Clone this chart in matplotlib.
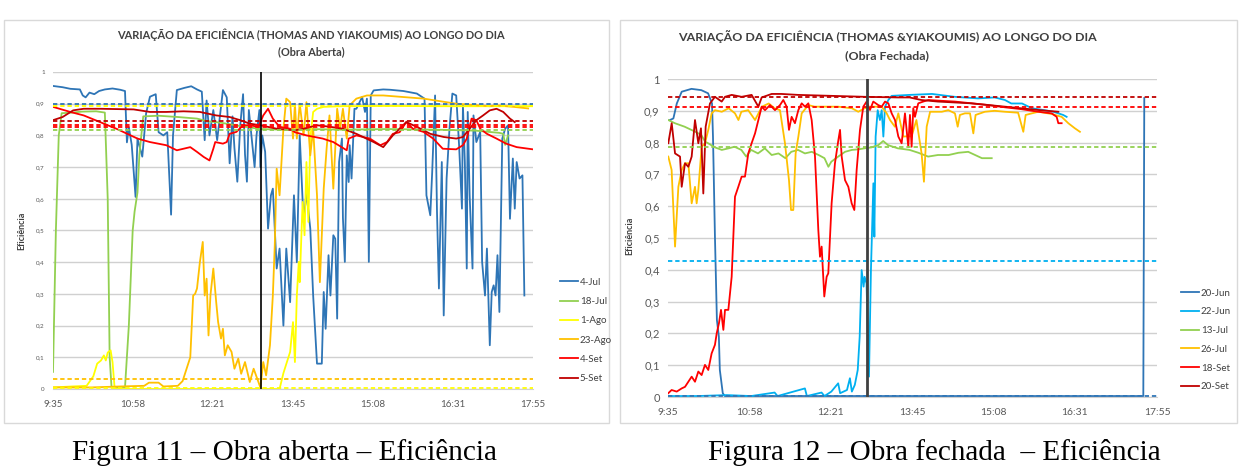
import matplotlib.pyplot as plt
from matplotlib.patches import Rectangle

plt.rcParams['font.family'] = ['Lato', 'DejaVu Sans']

# eixo x: minutos desde as 9:35
horas_pos = [0, 83, 166, 250, 333, 416, 500]
horas_txt = ['9:35', '10:58', '12:21', '13:45', '15:08', '16:31', '17:55']
ef_pos = [0, 0.1, 0.2, 0.3, 0.4, 0.5, 0.6, 0.7, 0.8, 0.9, 1.0]
ef_txt = ['0', '0,1', '0,2', '0,3', '0,4', '0,5', '0,6', '0,7', '0,8', '0,9', '1']

# ---------------- Obra aberta ----------------
aberta_nomes = ['4-Jul', '18-Jul', '1-Ago', '23-Ago', '4-Set', '5-Set']

jul4_t = [0, 10, 18, 28, 31, 34, 38, 43, 48, 54, 62, 70, 75, 77, 79, 82, 86, 88, 93, 97,
          101, 107, 110, 115, 119, 123, 125, 129, 137, 144, 150, 155, 158, 160, 163, 167, 171, 177, 181, 184,
          187, 189, 192, 195, 198, 200, 202, 204, 207, 210, 212, 215, 216, 218, 221, 224, 227, 229, 233, 236,
          240, 243, 247, 250, 251, 254, 257, 261, 264, 268, 271, 275, 280, 282, 284, 287, 289, 292, 294, 296,
          298, 301, 302, 304, 306, 308, 309, 311, 314, 316, 322, 325, 327, 329, 331, 334, 344, 351, 365, 379,
          387, 389, 393, 395, 398, 400, 402, 405, 407, 410, 413, 416, 420, 423, 426, 427, 429, 431, 432, 434,
          437, 438, 441, 445, 447, 450, 452, 455, 457, 459, 461, 463, 465, 468, 471, 474, 476, 479, 481, 483,
          486, 489, 491]
jul4_v = [0.956, 0.952, 0.947, 0.945, 0.926, 0.92, 0.935, 0.93, 0.94, 0.945, 0.948, 0.944, 0.94, 0.778, 0.826, 0.77, 0.606, 0.79, 0.733, 0.87,
          0.922, 0.93, 0.81, 0.8, 0.81, 0.55, 0.8, 0.943, 0.95, 0.955, 0.945, 0.938, 0.785, 0.91, 0.8, 0.88, 0.785, 0.943, 0.92, 0.712,
          0.86, 0.76, 0.654, 0.83, 0.93, 0.74, 0.654, 0.88, 0.79, 0.7, 0.8, 0.88, 0.7, 0.8, 0.748, 0.506, 0.611, 0.632, 0.38, 0.443,
          0.2, 0.443, 0.274, 0.527, 0.611, 0.4, 0.8, 0.527, 0.62, 0.506, 0.295, 0.08, 0.08, 0.306, 0.19, 0.422, 0.295, 0.485, 0.474, 0.222,
          0.716, 0.79, 0.54, 0.401, 0.737, 0.653, 0.769, 0.664, 0.884, 0.884, 0.921, 0.874, 0.916, 0.401, 0.926, 0.942, 0.945, 0.944, 0.94, 0.932,
          0.916, 0.611, 0.548, 0.685, 0.926, 0.558, 0.317, 0.716, 0.232, 0.664, 0.821, 0.932, 0.926, 0.769, 0.569, 0.895, 0.716, 0.38, 0.874, 0.611,
          0.38, 0.863, 0.779, 0.811, 0.401, 0.295, 0.443, 0.138, 0.306, 0.327, 0.295, 0.422, 0.243, 0.79, 0.821, 0.832, 0.537, 0.727, 0.569, 0.716,
          0.664, 0.674, 0.295]

jul18_t = [0, 3, 6, 9, 20, 30, 45, 54, 57, 59, 61, 75, 79, 83, 85, 88, 90, 94, 110, 130,
           150, 160, 175, 190, 205, 217, 240, 270, 300, 350, 400, 440, 465, 469, 471, 473, 474]
jul18_v = [0.054, 0.5, 0.8, 0.87, 0.872, 0.875, 0.876, 0.872, 0.6, 0.1, 0.005, 0.005, 0.2, 0.5, 0.56, 0.62, 0.74, 0.86, 0.862, 0.858,
           0.853, 0.845, 0.84, 0.832, 0.825, 0.82, 0.818, 0.82, 0.818, 0.82, 0.818, 0.815, 0.808, 0.805, 0.77, 0.79, 0.8]

ago1_t = [0, 20, 35, 42, 46, 50, 53, 55, 57, 60, 62, 64, 66, 120, 236, 240, 247, 250, 252, 254,
          256, 257, 260, 262, 264, 266, 268, 271, 275, 282, 300, 350, 400, 450, 500]
ago1_v = [0.005, 0.008, 0.01, 0.04, 0.08, 0.09, 0.106, 0.09, 0.115, 0.122, 0.085, 0.01, 0.0, 0.0, 0.0, 0.05, 0.117, 0.211, 0.085, 0.295,
          0.401, 0.337, 0.59, 0.485, 0.716, 0.527, 0.79, 0.874, 0.884, 0.89, 0.892, 0.893, 0.892, 0.892, 0.892]

ago23_t = [0, 40, 70, 95, 100, 110, 115, 130, 135, 143, 146, 148, 150, 153, 156, 158, 160, 162, 164, 167,
           170, 172, 175, 177, 179, 182, 186, 189, 193, 196, 200, 205, 209, 214, 216, 219, 222, 226, 229, 231,
           233, 236, 240, 243, 247, 250, 252, 254, 257, 261, 264, 268, 271, 275, 278, 282, 285, 288, 292, 296,
           299, 302, 306, 309, 316, 327, 344, 386, 420, 455, 462, 480, 495]
ago23_v = [0.005, 0.005, 0.008, 0.01, 0.02, 0.02, 0.008, 0.01, 0.025, 0.1, 0.295, 0.3, 0.317, 0.4, 0.464, 0.295, 0.348, 0.169, 0.295, 0.38,
           0.274, 0.211, 0.159, 0.19, 0.106, 0.138, 0.117, 0.064, 0.096, 0.048, 0.085, 0.022, 0.064, 0.022, 0.005, 0.085, 0.043, 0.138, 0.295, 0.453,
           0.695, 0.611, 0.821, 0.916, 0.905, 0.79, 0.9, 0.79, 0.9, 0.8, 0.905, 0.737, 0.821, 0.611, 0.337, 0.632, 0.758, 0.863, 0.632, 0.884,
           0.821, 0.884, 0.79, 0.895, 0.916, 0.926, 0.926, 0.916, 0.9, 0.892, 0.895, 0.89, 0.885]

set4_t = [0, 18, 32, 49, 66, 88, 101, 118, 129, 143, 150, 157, 163, 167, 169, 177, 181, 184, 191, 198,
          205, 214, 219, 224, 229, 236, 247, 252, 264, 281, 292, 306, 308, 316, 330, 341, 348, 354, 361, 368,
          375, 386, 396, 406, 420, 427, 431, 436, 441, 445, 452, 462, 472, 483, 500]
set4_v = [0.89, 0.874, 0.863, 0.842, 0.821, 0.79, 0.779, 0.769, 0.753, 0.763, 0.748, 0.732, 0.721, 0.758, 0.779, 0.774, 0.779, 0.805, 0.811, 0.832,
          0.832, 0.827, 0.863, 0.884, 0.853, 0.827, 0.821, 0.81, 0.8, 0.79, 0.779, 0.753, 0.79, 0.8, 0.79, 0.769, 0.779, 0.805, 0.81, 0.842,
          0.821, 0.811, 0.79, 0.758, 0.756, 0.769, 0.79, 0.853, 0.848, 0.821, 0.805, 0.79, 0.774, 0.763, 0.756]

set5_t = [0, 10, 21, 32, 49, 84, 101, 118, 136, 153, 170, 184, 195, 205, 216, 233, 252, 261, 275, 289,
          302, 316, 334, 344, 354, 368, 379, 393, 407, 420, 427, 434, 441, 448, 455, 462, 469, 476, 481]
set5_v = [0.848, 0.858, 0.879, 0.884, 0.884, 0.882, 0.874, 0.874, 0.876, 0.874, 0.863, 0.858, 0.848, 0.837, 0.832, 0.821, 0.816, 0.821, 0.832, 0.827,
          0.821, 0.805, 0.779, 0.763, 0.8, 0.842, 0.827, 0.805, 0.795, 0.79, 0.795, 0.821, 0.848, 0.863, 0.879, 0.884, 0.874, 0.853, 0.842]

# linhas de referência (tracejadas)
aberta_ref = [0.899, 0.893, 0.846, 0.833, 0.825, 0.817, 0.032, 0.003]
aberta_corte = 217

# ---------------- Obra fechada ----------------
fechada_nomes = ['20-Jun', '22-Jun', '13-Jul', '26-Jul', '18-Set', '20-Set']

jun20_t = [2, 5.5, 9, 14, 24, 34, 41, 45, 46, 48, 50, 52, 53, 56, 58, 150, 300, 486, 487]
jun20_v = [0.871, 0.876, 0.923, 0.96, 0.969, 0.965, 0.955, 0.923, 0.818, 0.504, 0.242, 0.19, 0.085, 0.012, 0.003, 0.003, 0.003, 0.003, 0.94]

jun22_t = [0, 30, 60, 85, 109, 112, 140, 142, 157, 160, 167, 174, 176, 183, 186, 188, 191, 194, 196, 198,
           200, 201, 203, 205.5, 207.5, 210, 211, 212.3, 214.4, 216.7, 218.5, 220.2, 221.9, 225.3, 228.7, 247, 270, 293, 317, 334,
           344.5, 351, 362, 372, 385, 394, 399, 404, 407.6]
jun22_v = [0.003, 0.003, 0.006, 0.003, 0.014, 0.003, 0.027, 0.003, 0.014, 0.003, 0.017, 0.043, 0.012, 0.022, 0.059, 0.017, 0.038, 0.085, 0.19, 0.399,
           0.347, 0.378, 0.357, 0.064, 0.399, 0.672, 0.504, 0.819, 0.902, 0.871, 0.902, 0.819, 0.913, 0.934, 0.947, 0.95, 0.953, 0.944, 0.939, 0.942,
           0.934, 0.923, 0.923, 0.908, 0.902, 0.897, 0.892, 0.887, 0.881]

jul13_t = [0.3, 7, 17, 28, 34, 38, 41, 48, 55, 62, 68, 75, 80, 85, 92, 99, 106, 113, 120, 126,
           133, 140, 147, 154, 160, 164, 167, 174, 181, 188, 195, 201, 208, 215, 220, 225, 235, 247, 256, 266,
           276, 287, 297, 307, 314, 321, 331]
jul13_v = [0.871, 0.861, 0.85, 0.834, 0.824, 0.803, 0.798, 0.785, 0.777, 0.782, 0.787, 0.777, 0.756, 0.777, 0.766, 0.782, 0.761, 0.766, 0.751, 0.771,
           0.777, 0.766, 0.771, 0.761, 0.751, 0.724, 0.74, 0.756, 0.771, 0.777, 0.779, 0.782, 0.785, 0.792, 0.805, 0.792, 0.782, 0.777, 0.768, 0.756,
           0.761, 0.761, 0.768, 0.771, 0.761, 0.751, 0.751]

jul26_t = [0.3, 3.7, 7.2, 10.6, 14, 17.4, 20.8, 24.2, 27.6, 29.3, 31, 34.4, 37.8, 41.2, 44.6, 48, 55, 62, 68.5, 72,
           75, 82, 89, 96, 103, 109, 114.5, 119.6, 123.7, 125.8, 128.1, 130.5, 133.3, 136.7, 143.5, 150, 160, 174, 188, 194.6,
           201, 208, 218.5, 223.6, 227, 232, 235.5, 240.6, 245.7, 249, 254, 259.3, 261.7, 264.5, 268, 273, 280, 286.6, 293.4, 296.2,
           298.5, 303.6, 308.8, 312.2, 314.5, 324, 334, 344.5, 358, 363.3, 365.7, 378.6, 392.3, 402.5, 409.3, 416, 421.2]
jul26_v = [0.756, 0.714, 0.473, 0.661, 0.714, 0.735, 0.735, 0.609, 0.661, 0.609, 0.651, 0.787, 0.798, 0.84, 0.892, 0.902, 0.897, 0.908, 0.892, 0.871,
           0.897, 0.902, 0.871, 0.913, 0.923, 0.908, 0.902, 0.798, 0.682, 0.588, 0.588, 0.766, 0.819, 0.892, 0.918, 0.913, 0.913, 0.913, 0.908, 0.897,
           0.908, 0.913, 0.913, 0.892, 0.871, 0.85, 0.892, 0.819, 0.82, 0.819, 0.871, 0.766, 0.677, 0.85, 0.897, 0.897, 0.897, 0.902, 0.892, 0.85,
           0.887, 0.892, 0.892, 0.829, 0.887, 0.897, 0.9, 0.897, 0.894, 0.834, 0.887, 0.897, 0.89, 0.881, 0.861, 0.845, 0.834]

set18_t = [0.3, 3.7, 8.9, 14, 17.4, 20.8, 24.2, 27.6, 31, 34.4, 37.8, 41.2, 44.6, 48, 49.8, 52.1, 54.2, 56.6, 58.3, 61.7,
           65.1, 68.5, 71.9, 75.3, 78.7, 82.1, 85.5, 89, 92.4, 95.8, 99.2, 104.3, 109.4, 114.5, 117.9, 121.3, 123.7, 126.4, 129.8, 133.3,
           136.7, 140.1, 143.5, 146.9, 150.3, 153.7, 155.4, 157.1, 159.8, 162.2, 163.9, 167.3, 170.7, 174.2, 175.9, 177.6, 181, 184.4, 187.8, 190.5,
           192.9, 196.3, 199.7, 203.1, 206.5, 209.9, 215, 218.5, 221.9, 225.3, 228.7, 232.1, 235.5, 238.9, 242.3, 245.7, 247.4, 249.1, 250.8, 252.5,
           255.9, 261, 266.2, 276.4, 293.4, 310.5, 327.5, 344.5, 361.6, 378.6, 392.3, 397.4, 399.1, 402.5]
set18_v = [0.012, 0.022, 0.017, 0.027, 0.032, 0.048, 0.064, 0.048, 0.08, 0.069, 0.101, 0.085, 0.137, 0.164, 0.2, 0.232, 0.274, 0.211, 0.274, 0.274,
           0.378, 0.63, 0.661, 0.693, 0.693, 0.766, 0.798, 0.829, 0.871, 0.913, 0.902, 0.918, 0.902, 0.918, 0.934, 0.913, 0.84, 0.881, 0.861, 0.9025,
           0.9235, 0.913, 0.9235, 0.871, 0.756, 0.525, 0.441, 0.473, 0.316, 0.378, 0.389, 0.609, 0.735, 0.808, 0.84, 0.756, 0.682, 0.661, 0.609, 0.588,
           0.714, 0.84, 0.913, 0.929, 0.9025, 0.929, 0.918, 0.913, 0.929, 0.9235, 0.892, 0.871, 0.819, 0.798, 0.892, 0.787, 0.887, 0.787, 0.908, 0.881,
           0.9235, 0.929, 0.934, 0.932, 0.929, 0.9235, 0.918, 0.911, 0.905, 0.897, 0.892, 0.881, 0.861, 0.861]

set20_t = [0.3, 3.8, 7.2, 12.3, 14, 17.4, 20.8, 24.2, 27.6, 31, 33.7, 36.1, 38.5, 42.9, 48, 54.9, 58.3, 65.1, 75.3, 85.5,
           92.4, 95.8, 106, 116, 133, 167, 201, 235, 247, 259, 276, 310, 344.5, 378.6, 399.1]
set20_v = [0.798, 0.861, 0.766, 0.756, 0.661, 0.735, 0.724, 0.756, 0.871, 0.798, 0.845, 0.64, 0.85, 0.923, 0.944, 0.929, 0.944, 0.95, 0.944, 0.95,
           0.913, 0.942, 0.953, 0.953, 0.95, 0.947, 0.944, 0.942, 0.942, 0.934, 0.929, 0.9235, 0.913, 0.9025, 0.897]

fechada_ref = [0.944, 0.913, 0.786, 0.429, 0.003]
fechada_corte = 203

# cores (estilo Excel)
AZUL, AZUL_CLARO, VERDE = '#2E75B6', '#00B0F0', '#92D050'
AMARELO, LARANJA, VERMELHO, VERM_ESC = '#FFFF00', '#FFC000', '#FF0000', '#C00000'
aberta_cores = [AZUL, VERDE, AMARELO, LARANJA, VERMELHO, VERM_ESC]
aberta_ref_cores = [AZUL, AMARELO, VERM_ESC, VERMELHO, VERMELHO, VERDE, LARANJA, AMARELO]
fechada_cores = [AZUL, AZUL_CLARO, VERDE, LARANJA, VERMELHO, VERM_ESC]
fechada_ref_cores = [VERM_ESC, VERMELHO, VERDE, AZUL_CLARO, AZUL]

W, H = 1241, 468
fig = plt.figure(figsize=(W / 100, H / 100), dpi=100)


def painel(rect, series, nomes, cores, refs, ref_cores, corte, corte_cor, corte_lw,
           ytick_fs, xtick_fs, ylab_xy, leg_xy, leg_fs, leg_sp):
    ax = fig.add_axes(rect)
    linhas = []
    for (t, v), nome, cor in zip(series, nomes, cores):
        ln, = ax.plot(t, v, color=cor, lw=1.3, label=nome)
        linhas.append(ln)
    for r, cor in zip(refs, ref_cores):
        ax.axhline(r, color=cor, lw=1.3, dashes=(2.4, 1.6))
    ax.axvline(corte, color=corte_cor, lw=corte_lw)
    ax.set_xlim(0, 500)
    ax.set_ylim(0, 1)
    ax.set_xticks(horas_pos)
    ax.set_xticklabels(horas_txt)
    ax.set_yticks(ef_pos)
    ax.set_yticklabels(ef_txt)
    ax.tick_params(axis='x', length=0, pad=8, labelsize=xtick_fs, labelcolor='#595959')
    ax.tick_params(axis='y', length=0, pad=6, labelsize=ytick_fs, labelcolor='#595959')
    ax.grid(axis='y', color='#D0D0D0', lw=1)
    ax.set_axisbelow(True)
    for s in ['top', 'left', 'right']:
        ax.spines[s].set_visible(False)
    ax.spines['bottom'].set_color('#D0D0D0')
    ax.set_ylabel('Eficiência', fontsize=6.5, fontweight='bold', color='#404040')
    ax.yaxis.set_label_coords(*ylab_xy)
    fig.legend(handles=linhas, loc='center left', bbox_to_anchor=leg_xy, frameon=False,
               fontsize=leg_fs, handlelength=1.9, handletextpad=0.15, labelspacing=leg_sp,
               borderpad=0, borderaxespad=0, labelcolor='#404040')
    return ax


painel([53 / W, 79 / H, 480 / W, 317 / H],
       [(jul4_t, jul4_v), (jul18_t, jul18_v), (ago1_t, ago1_v),
        (ago23_t, ago23_v), (set4_t, set4_v), (set5_t, set5_v)],
       aberta_nomes, aberta_cores, aberta_ref, aberta_ref_cores,
       aberta_corte, 'black', 1.2, 4.5, 7, (-0.055, 0.5), (560 / W, 0.294), 7, 1.05)

painel([668 / W, 71 / H, 489 / W, 318 / H],
       [(jun20_t, jun20_v), (jun22_t, jun22_v), (jul13_t, jul13_v),
        (jul26_t, jul26_v), (set18_t, set18_v), (set20_t, set20_v)],
       fechada_nomes, fechada_cores, fechada_ref, fechada_ref_cores,
       fechada_corte, '#404040', 2.0, 8, 7.5, (-0.068, 0.506), (1181 / W, 0.2735), 7, 1.0)

# titulos
fig.text(311 / W, 1 - 35 / H, 'VARIAÇÃO DA EFICIÊNCIA (THOMAS AND YIAKOUMIS) AO LONGO DO DIA',
         ha='center', va='center', fontsize=7.9, fontweight='bold', color='#404040')
fig.text(311 / W, 1 - 52 / H, '(Obra Aberta)', ha='center', va='center',
         fontsize=7.9, fontweight='bold', color='#404040')
fig.text(887 / W, 1 - 37 / H, 'VARIAÇÃO DA EFICIÊNCIA (THOMAS &YIAKOUMIS) AO LONGO DO DIA',
         ha='center', va='center', fontsize=8.9, fontweight='bold', color='#404040')
fig.text(887 / W, 1 - 56 / H, '(Obra Fechada)', ha='center', va='center',
         fontsize=8.9, fontweight='bold', color='#404040')

# molduras dos graficos
fig.add_artist(Rectangle((4 / W, 45 / H), 605 / W, 403 / H, transform=fig.transFigure,
                         fill=False, ec='#D9D9D9', lw=1))
fig.add_artist(Rectangle((620 / W, 45 / H), 617 / W, 403 / H, transform=fig.transFigure,
                         fill=False, ec='#D9D9D9', lw=1))

# legendas das figuras
fig.text(72 / W, 8 / H, 'Figura 11 – Obra aberta – Eficiência', ha='left', va='baseline',
         fontsize=21, family=['Liberation Serif'])
fig.text(708 / W, 8 / H, 'Figura 12 – Obra fechada  – Eficiência', ha='left', va='baseline',
         fontsize=21, family=['Liberation Serif'])

fig.savefig('out.png', dpi=100)
